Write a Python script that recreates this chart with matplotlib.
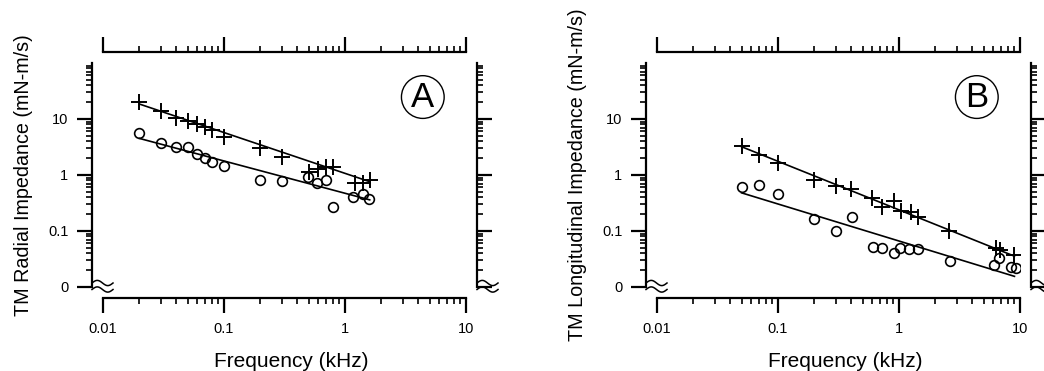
import numpy as np
import matplotlib
matplotlib.use('Agg')
import matplotlib.pyplot as plt
from matplotlib.ticker import LogLocator, FixedLocator, NullFormatter

plt.rcParams['font.family'] = ['Liberation Sans', 'DejaVu Sans']

# panel A: radial impedance
a_plus_f = [0.02, 0.03, 0.04, 0.05, 0.06, 0.07, 0.08, 0.1, 0.2, 0.3, 0.5, 0.6, 0.7, 0.8, 1.2, 1.4, 1.6]
a_plus_z = [20.4, 13.9, 10.3, 9.3, 8.0, 7.1, 6.3, 4.8, 3.0, 2.07, 1.15, 1.3, 1.4, 1.4, 0.73, 0.73, 0.81]
a_circ_f = [0.02, 0.03, 0.04, 0.05, 0.06, 0.07, 0.08, 0.1, 0.2, 0.3, 0.49, 0.59, 0.7, 0.8, 1.17, 1.4, 1.59]
a_circ_z = [5.7, 3.8, 3.1, 3.1, 2.37, 1.99, 1.68, 1.47, 0.81, 0.78, 0.93, 0.71, 0.81, 0.265, 0.40, 0.46, 0.37]
a_fit_f = [0.02, 1.6]
a_fit_plus = [18.5, 0.76]
a_fit_circ = [4.5, 0.36]

# panel B: longitudinal impedance
b_plus_f = [0.05, 0.07, 0.1, 0.2, 0.3, 0.4, 0.6, 0.73, 0.91, 1.03, 1.25, 1.44, 2.6, 6.3, 6.85, 8.95]
b_plus_z = [3.3, 2.27, 1.62, 0.81, 0.64, 0.555, 0.39, 0.27, 0.34, 0.23, 0.22, 0.18, 0.10, 0.050, 0.046, 0.037]
b_circ_f = [0.05, 0.07, 0.1, 0.2, 0.3, 0.41, 0.61, 0.72, 0.91, 1.02, 1.22, 1.43, 2.62, 6.1, 6.7, 8.4, 9.3]
b_circ_z = [0.60, 0.66, 0.45, 0.166, 0.10, 0.18, 0.052, 0.050, 0.041, 0.050, 0.048, 0.048, 0.0295, 0.0247, 0.033, 0.0225, 0.0216]
b_fit_f = [0.05, 9.0]
b_fit_plus = [3.2, 0.0355]
b_fit_circ = [0.48, 0.0155]

ytick_vals = [0.01, 0.1, 1, 10]
ytick_labels = ['0', '0.1', '1', '10']
xtick_vals = [0.01, 0.1, 1, 10]
xtick_labels = ['0.01', '0.1', '1', '10']

fig = plt.figure(figsize=(10.44, 3.71), dpi=100)

panels = [
	(103, 'TM Radial Impedance (mN-m/s)', 'A', a_plus_f, a_plus_z, a_circ_f, a_circ_z, a_fit_f, a_fit_plus, a_fit_circ),
	(657, 'TM Longitudinal Impedance (mN-m/s)', 'B', b_plus_f, b_plus_z, b_circ_f, b_circ_z, b_fit_f, b_fit_plus, b_fit_circ),
]

AX_W = 363.0
AX_H = 224.0


def axis_break(ax, x0_px):
	# two small tildes next to the bottom of a y spine, x0_px relative to axes left
	t = np.linspace(0, 1, 40)
	xs = (x0_px + 21 * t) / AX_W
	for yc in [4.0, -2.5]:
		ys = (yc + 2.6 * np.sin(2 * np.pi * t)) / AX_H
		ax.plot(xs, ys, transform=ax.transAxes, color='black', lw=1.1, clip_on=False)


for left_px, ylab, letter, pf, pz, cf, cz, ff, fp, fc in panels:
	ax = fig.add_axes([left_px / 1044, 84 / 371, AX_W / 1044, AX_H / 371])
	ax.set_xscale('log')
	ax.set_yscale('log')
	ax.set_xlim(0.01, 10)
	ax.set_ylim(0.01, 100)

	ax.plot(ff, fp, color='black', lw=1.2)
	ax.plot(ff, fc, color='black', lw=1.2)
	ax.plot(pf, pz, ls='none', marker='+', ms=11, mew=1.4, color='black')
	ax.plot(cf, cz, ls='none', marker='o', ms=7, mew=1.2, mfc='none', mec='black')

	for side in ['left', 'right', 'top', 'bottom']:
		ax.spines[side].set_position(('outward', 8))
		ax.spines[side].set_linewidth(1.6)
	ax.spines['left'].set_bounds(0.01, 100)
	ax.spines['right'].set_bounds(0.01, 100)
	ax.spines['top'].set_bounds(0.01, 10)
	ax.spines['bottom'].set_bounds(0.01, 10)

	ax.yaxis.set_major_locator(FixedLocator(ytick_vals))
	ax.set_yticklabels(ytick_labels)
	ax.yaxis.set_minor_locator(LogLocator(base=10, subs=np.arange(2, 10)))
	ax.yaxis.set_minor_formatter(NullFormatter())
	ax.xaxis.set_major_locator(FixedLocator(xtick_vals))
	ax.set_xticklabels(xtick_labels)
	ax.xaxis.set_minor_locator(LogLocator(base=10, subs=np.arange(2, 10)))
	ax.xaxis.set_minor_formatter(NullFormatter())

	ax.tick_params(which='both', direction='out', top=True, right=True, labeltop=False, labelright=False, width=1.6)
	ax.tick_params(which='major', length=11, labelsize=10.5, pad=6)
	ax.tick_params(which='minor', length=4.5, width=1.2)

	ax.set_ylabel(ylab, fontsize=14.2)
	ax.yaxis.label.set_va('center')
	ax.yaxis.set_label_coords(-0.22, 0.5)
	ax.set_xlabel('Frequency (kHz)', fontsize=15)
	ax.xaxis.set_label_coords(0.518, -0.29)

	ax.text(0.881, 0.848, letter, transform=ax.transAxes, fontsize=25, ha='center', va='center',
		bbox=dict(boxstyle='circle,pad=0.14', fc='white', ec='black', lw=1.0))

	axis_break(ax, -11)
	axis_break(ax, AX_W + 11)

fig.savefig('out.png', dpi=100)
